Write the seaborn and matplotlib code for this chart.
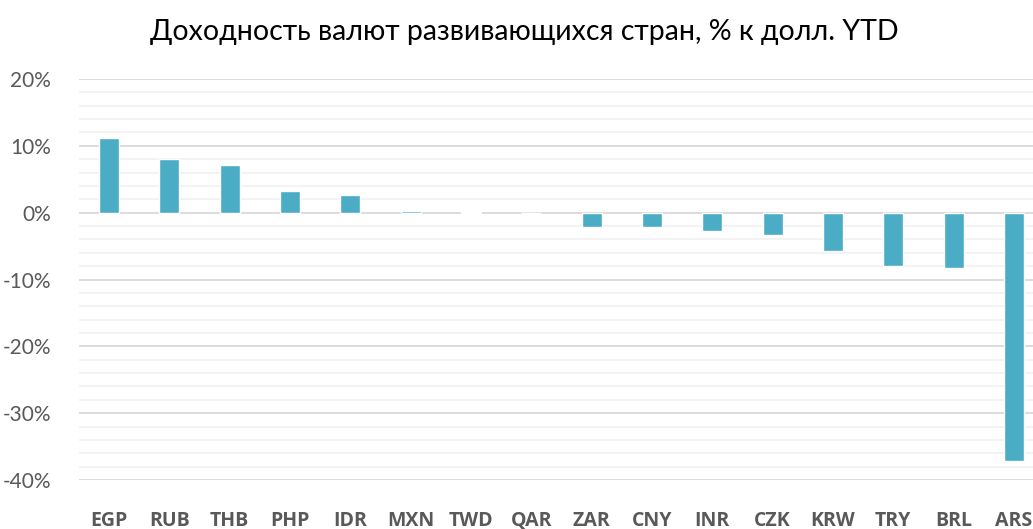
import matplotlib
matplotlib.use("Agg")
import matplotlib.pyplot as plt
import numpy as np
import pandas as pd
import seaborn as sns
from matplotlib.ticker import MultipleLocator, FuncFormatter

currencies = ["EGP", "RUB", "THB", "PHP", "IDR", "MXN", "TWD", "QAR",
              "ZAR", "CNY", "INR", "CZK", "KRW", "TRY", "BRL", "ARS"]
ytd_returns = [11.2, 8.0, 7.1, 3.2, 2.6, 0.3, 0.1, 0.0,
               -2.1, -2.2, -2.8, -3.4, -5.8, -8.0, -8.3, -37.2]
title = "Доходность валют развивающихся стран, % к долл. YTD"

sns.set_style("white")
plt.rcParams["font.family"] = ["Lato", "DejaVu Sans"]

df = pd.DataFrame({"currency": currencies, "ret": ytd_returns})

fig = plt.figure(figsize=(10.33, 5.29), dpi=100)
ax = fig.add_axes([0.0762, 0.0926, 0.9345, 0.758])

sns.barplot(data=df, x="currency", y="ret", color="#4BACC6", saturation=1,
            width=0.33, ax=ax, zorder=3)

ax.set_xlim(-0.5, len(currencies) - 0.5)
ax.set_ylim(-40, 20)
ax.yaxis.set_major_locator(MultipleLocator(10))
ax.yaxis.set_minor_locator(MultipleLocator(2))
ax.yaxis.set_major_formatter(FuncFormatter(lambda v, _: f"{v:.0f}%"))
ax.grid(axis="y", which="major", color="#d9d9d9", linewidth=1.3, zorder=1)
ax.grid(axis="y", which="minor", color="#f2f2f2", linewidth=1.3, zorder=0)
ax.set_axisbelow(True)
for s in ax.spines.values():
    s.set_visible(False)

ax.set_xlabel("")
ax.set_ylabel("")
ax.set_xticks(range(len(currencies)))
ax.set_xticklabels(currencies, fontweight="bold", family=["Open Sans", "DejaVu Sans"])
ax.tick_params(axis="y", which="both", length=0, labelsize=15, labelcolor="#595959", pad=20)
ax.tick_params(axis="x", length=0, labelsize=14, labelcolor="#595959", pad=22)

fig.text(0.508, 0.94, title, ha="center", va="center", fontsize=20.5, color="#000000")

fig.savefig("out.png", dpi=100)
